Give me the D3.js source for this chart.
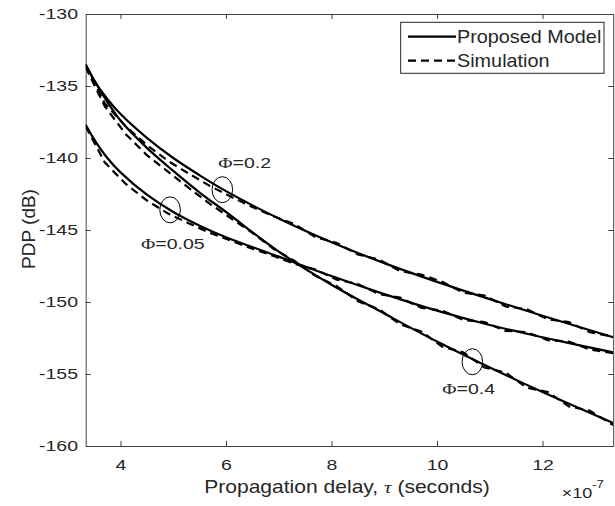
<!DOCTYPE html>
<html>
<head>
<meta charset="utf-8">
<script src="https://cdn.jsdelivr.net/npm/d3@7"></script>
<style>
  body { margin: 0; background: #fff; }
  text { font-family: "Liberation Sans", Arial, sans-serif; fill: #262626; }
</style>
</head>
<body>
<svg id="chart" width="615" height="506"></svg>
<script>
// delay in units of 1e-7 s, PDP in dB
var modelX    = [3.34, 3.5, 3.75, 4, 4.5, 5, 5.5, 6, 7, 8, 9, 10, 11, 12, 13.34];
var model02   = [-133.5, -134.6, -135.9, -136.95, -138.6, -140.0, -141.2, -142.3, -144.2, -145.85, -147.3, -148.6, -149.8, -150.95, -152.45];
var model04   = [-133.5, -134.6, -136.1, -137.4, -139.3, -140.9, -142.4, -143.75, -146.5, -148.8, -150.8, -152.75, -154.55, -156.25, -158.4];
var model005  = [-137.7, -138.7, -140.0, -141.0, -142.55, -143.75, -144.7, -145.5, -146.85, -148.2, -149.45, -150.6, -151.6, -152.45, -153.5];

var simX   = [3.34, 3.7, 4.1, 4.5, 4.9, 5.3, 5.7, 6.1, 6.5, 6.9, 7.3, 7.7, 8.1, 8.5, 8.9, 9.3, 9.7, 10.1, 10.5, 10.9, 11.3, 11.7, 12.1, 12.5, 12.9, 13.34];
var sim02  = [-133.6, -136.2, -137.8, -139.1, -140.2, -141.1, -141.95, -142.7, -143.4, -144.05, -144.6, -145.5, -145.9, -146.7, -147.05, -147.85, -148.1, -148.6, -149.35, -149.55, -150.3, -150.5, -151.2, -151.4, -152.1, -152.4];
var sim04  = [-133.7, -136.4, -138.35, -139.8, -140.95, -142.1, -143.2, -144.2, -145.2, -146.3, -147.15, -148.2, -148.9, -149.95, -150.5, -151.55, -152.05, -153.1, -153.5, -154.55, -154.9, -155.95, -156.25, -157.25, -157.55, -158.55];
var sim005 = [-137.8, -140.3, -141.8, -142.95, -143.85, -144.55, -145.2, -145.75, -146.3, -146.8, -147.35, -147.75, -148.45, -148.75, -149.45, -149.7, -150.4, -150.6, -151.25, -151.4, -152.0, -152.1, -152.65, -152.75, -153.3, -153.55];

var xTicks = [4, 6, 8, 10, 12];
var yTicks = [-160, -155, -150, -145, -140, -135, -130];
var legendLabels = ["Proposed Model", "Simulation"];
var phiLabels = ["0.2", "0.05", "0.4"];
var phiAt = [[5.93, -142.2], [4.94, -143.6], [10.67, -154.15]];

var svg = d3.select("#chart");
var pl = 85.7, pr = 613.2, pt = 14, pb = 446;

var x = d3.scaleLinear().domain([3.34, 13.34]).range([pl, pr]);
var y = d3.scaleLinear().domain([-160, -130]).range([pb, pt]);

svg.append("defs").append("clipPath").attr("id", "plotclip")
  .append("rect").attr("x", pl).attr("y", pt)
  .attr("width", pr - pl).attr("height", pb - pt);

// axes, MATLAB style ticks pointing inwards
function styleAxis(g) {
  g.attr("font-size", null).attr("font-family", null);
  g.select(".domain").attr("stroke", "#404040");
  g.selectAll(".tick line").attr("stroke", "#404040");
  g.selectAll("text").style("font-size", "15px").attr("fill", "#262626");
}
var plain = function(d) { return String(d); };

var gx = svg.append("g").attr("transform", "translate(0," + pb + ")")
  .call(d3.axisBottom(x).tickValues(xTicks).tickFormat(plain).tickSizeInner(-5).tickSizeOuter(0).tickPadding(13));
styleAxis(gx);
gx.selectAll("text").attr("transform", "scale(1.3,1)");

var gy = svg.append("g").attr("transform", "translate(" + pl + ",0)")
  .call(d3.axisLeft(y).tickValues(yTicks).tickFormat(plain).tickSizeInner(-5).tickSizeOuter(0).tickPadding(7.7));
styleAxis(gy);
gy.selectAll("text").attr("x", -7.7 / 1.3).attr("transform", "scale(1.3,1)");

var gt = svg.append("g").attr("transform", "translate(0," + pt + ")")
  .call(d3.axisTop(x).tickValues(xTicks).tickSizeInner(-5).tickSizeOuter(0).tickFormat(""));
styleAxis(gt);
var gr = svg.append("g").attr("transform", "translate(" + pr + ",0)")
  .call(d3.axisRight(y).tickValues(yTicks).tickSizeInner(-5).tickSizeOuter(0).tickFormat(""));
styleAxis(gr);

// curves
var plot = svg.append("g").attr("clip-path", "url(#plotclip)");

var modelLine = d3.line()
  .x(function(d) { return x(d[0]); })
  .y(function(d) { return y(d[1]); })
  .curve(d3.curveCatmullRom.alpha(0.5));
var simLine = d3.line()
  .x(function(d) { return x(d[0]); })
  .y(function(d) { return y(d[1]); });

[sim02, sim04, sim005].forEach(function(s) {
  plot.append("path")
    .datum(d3.zip(simX, s))
    .attr("d", simLine)
    .attr("fill", "none").attr("stroke", "#000")
    .attr("stroke-width", 2.2).attr("stroke-dasharray", "8,5");
});

[model02, model04, model005].forEach(function(m) {
  plot.append("path")
    .datum(d3.zip(modelX, m))
    .attr("d", modelLine)
    .attr("fill", "none").attr("stroke", "#000")
    .attr("stroke-width", 2.2);
});

// Phi annotations
var textOff = [[-4, -22], [-29, 39], [-30, 32]];
phiAt.forEach(function(p, i) {
  var cx = x(p[0]), cy = y(p[1]);
  svg.append("ellipse")
    .attr("cx", cx).attr("cy", cy).attr("rx", 10.3).attr("ry", 13)
    .attr("fill", "none").attr("stroke", "#000").attr("stroke-width", 1);
  var t = svg.append("text")
    .attr("transform", "translate(" + (cx + textOff[i][0]) + "," + (cy + textOff[i][1]) + ") scale(1.3,1)")
    .style("font-size", "15px");
  t.append("tspan").style("font-family", "'Liberation Serif', 'Times New Roman', serif").text("\u03A6");
  t.append("tspan").text("=" + phiLabels[i]);
});

// axis labels
svg.append("text")
  .attr("transform", "translate(347,493) scale(1.19,1)")
  .attr("text-anchor", "middle")
  .style("font-size", "17.7px")
  .call(function(t) {
    t.append("tspan").text("Propagation delay, ");
    t.append("tspan").style("font-family", "'Liberation Serif', 'Times New Roman', serif")
      .style("font-style", "italic").text("\u03C4");
    t.append("tspan").text(" (seconds)");
  });

svg.append("text")
  .attr("transform", "translate(35,229) rotate(-90)")
  .attr("text-anchor", "middle")
  .style("font-size", "19px")
  .text("PDP (dB)");

var ex = svg.append("text")
  .attr("transform", "translate(561.7,498) scale(1.2,1)")
  .style("font-size", "15px");
ex.append("tspan").text("\u00D710");
ex.append("tspan").attr("dy", -10).style("font-size", "11px").text("-7");

// legend
var lg = svg.append("g");
lg.append("rect")
  .attr("x", 400.7).attr("y", 22.3).attr("width", 203.3).attr("height", 51)
  .attr("fill", "#fff").attr("stroke", "#262626").attr("stroke-width", 1);
legendLabels.forEach(function(name, i) {
  var ly = 36.7 + i * 24;
  lg.append("line")
    .attr("x1", 408).attr("x2", 456).attr("y1", ly).attr("y2", ly)
    .attr("stroke", "#000").attr("stroke-width", 2.2)
    .attr("stroke-dasharray", i === 1 ? "8,5" : null);
  lg.append("text")
    .attr("transform", "translate(457," + (ly + 6.5) + ") scale(1.12,1)")
    .style("font-size", "17.7px")
    .text(name);
});
</script>
</body>
</html>
